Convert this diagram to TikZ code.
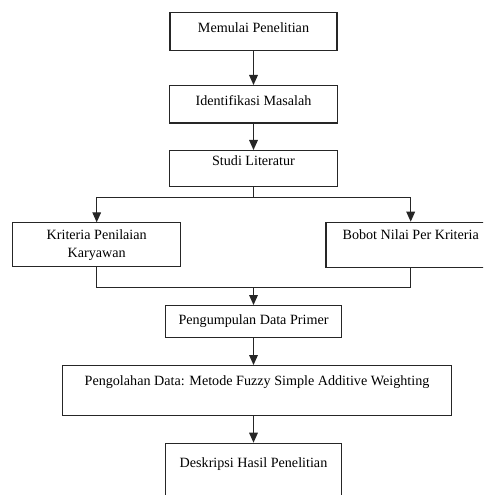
\documentclass[tikz,border=0pt]{standalone}
\usepackage{fontspec}
\setmainfont{Liberation Serif}
\usepackage{tikz}
\usetikzlibrary{positioning}
\usetikzlibrary{arrows.meta}

\begin{document}
\begin{tikzpicture}[x=0.75pt,y=-0.75pt,align=center,
    every node/.style={draw=black!85,line width=0.85pt,inner sep=0,anchor=north,font=\fontsize{10.6}{11.5}\selectfont},
    arr/.style={line width=0.85pt,draw=black!85,-{Triangle[width=6.5pt,length=7.5pt]}}]
    \useasboundingbox (0,0) rectangle (483,495);
    \clip (0,0) rectangle (483,495);
    \node (S1) [minimum width=125.25pt,text height=14.55pt,text depth=13.95pt] at (253.5,12.3) {Memulai Penelitian};
    \node (S2) [minimum width=126pt,text height=14.6pt,text depth=13.5pt] at (253.5,85) {Identifikasi Masalah};
    \node (S3) [minimum width=126pt,text height=11.25pt,text depth=15.4pt] at (253.5,150) {Studi Literatur};
    \node (S4) [minimum width=126pt,text height=25.85pt,text depth=6.7pt] at (96.7,222.3) {Kriteria Penilaian\\[2pt]Karyawan};
    \node (S5) [minimum width=127pt,text height=13.2pt,text depth=21pt] at (410.7,221.7) {Bobot Nilai Per Kriteria};
    \node (S6) [minimum width=132pt,text height=14.25pt,text depth=9.5pt] at (253.5,305) {Pengumpulan Data Primer};
    \node (S7) [minimum width=292pt,text height=15pt,text depth=22.5pt] at (257,365) {Pengolahan Data: Metode Fuzzy Simple Additive Weighting};
    \node (S8) [minimum width=131.5pt,text height=18pt,text depth=30pt] at (253.5,442.7) {Deskripsi Hasil Penelitian};
    \coordinate (J1) at (253.5,197.3);
    \coordinate (J2) at (253.5,287.7);
    \draw[arr] (S1) -- (S2);
    \draw[arr] (S2) -- (S3);
    \draw[line width=0.85pt,draw=black!85] (S3) -- (J1);
    \draw[arr] (J1) -| (S4.north);
    \draw[arr] (J1) -| (S5.north);
    \draw[line width=0.85pt,draw=black!85] (S4.south) |- (J2) -| (S5.south);
    \draw[arr] (J2) -- (S6);
    \draw[arr] (S6.south) -- (S6.south |- S7.north);
    \draw[arr] (S8.north |- S7.south) -- (S8.north);
\end{tikzpicture}
\end{document}
